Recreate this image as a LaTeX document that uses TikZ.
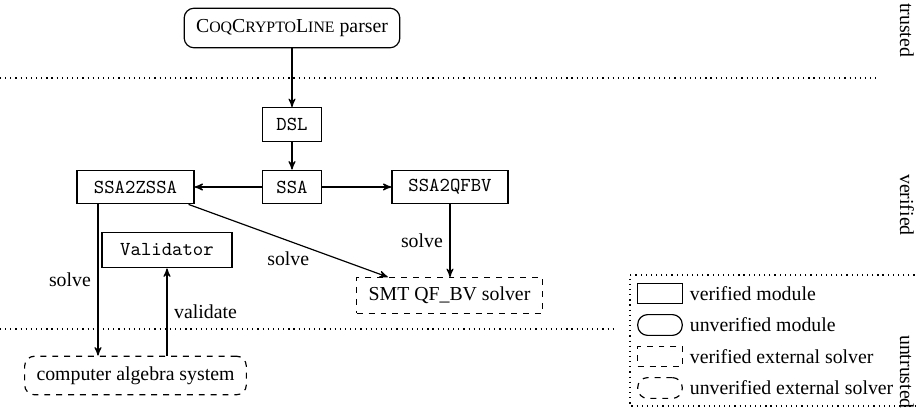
\documentclass[tikz,border=0pt]{standalone}
\usepackage{fontspec}
\setmainfont{Liberation Serif}
\usetikzlibrary{arrows,positioning}

\newcommand{\smallcapsize}{\fontsize{8}{9}\selectfont}
\newcommand{\cclname}{C{\smallcapsize OQ}C{\smallcapsize RYPTO}L{\smallcapsize INE}}

\begin{document}
\begin{tikzpicture}[x=0.505pt, y=-0.505pt, >=stealth',
	module/.style={draw, semithick, font=\ttfamily, inner xsep=2pt, minimum height=17pt},
	unvmodule/.style={draw, semithick, rounded corners=5pt, inner xsep=6pt, minimum height=20pt},
	extsolver/.style={draw, dashed, semithick, inner xsep=6pt, minimum height=18pt},
	unvsolver/.style={extsolver, rounded corners=5pt, minimum height=19.5pt},
	flow/.style={->, semithick},
	zone/.style={dotted, semithick},
	zonelabel/.style={rotate=-90},
	legendshape/.style={minimum width=22.5pt, minimum height=10.5pt, inner sep=0pt}]
	\useasboundingbox (0,0) rectangle (917,412);

	%trust zones
	\draw[zone] (0,78) -- (877,78);
	\draw[zone] (0,329) -- (615,329);
	\node[zonelabel] (trusted) at (907,30) {trusted};
	\node[zonelabel] (verified) at (907,205) {verified};
	\node[zonelabel] (untrusted) at (907,372) {untrusted};

	%modules
	\node[unvmodule] (parser) at (292,28) {\cclname{} parser};
	\node[module, minimum width=29.8pt] (dsl) at (292,124.5) {DSL};
	\node[module, minimum width=29.8pt] (ssa) at (292,187) {SSA};
	\node[module, minimum width=59pt] (zssa) at (135.5,187) {SSA2ZSSA};
	\node[module, minimum width=58.6pt] (qfbv) at (450,187) {SSA2QFBV};
	\node[module, minimum width=65.7pt, minimum height=18pt] (validator) at (167,250) {Validator};

	%external solvers
	\node[extsolver] (smt) at (449.5,295.5) {SMT QF\_BV solver};
	\node[unvsolver] (cas) at (135.5,375.5) {computer algebra system};

	%flow
	\draw[flow] (parser) -- (dsl);
	\draw[flow] (dsl) -- (ssa);
	\draw[flow] (ssa) -- (zssa);
	\draw[flow] (ssa) -- (qfbv);
	\draw[flow] (qfbv) -- (qfbv |- smt.north) node[midway, left] {solve};
	\draw[flow] ([xshift=-3pt]zssa.south east) -- ([xshift=16pt]smt.north west)
		node[midway, below, yshift=-2pt] {solve};
	\coordinate (solvex) at (98,0);
	\draw[flow] (zssa.south -| solvex) -- (cas.north -| solvex) node[midway, left] {solve};
	\draw[flow] (cas.north -| validator) -- (validator.south) node[midway, right] {validate};

	%legend
	\draw[zone] (930,275) -| (630,406) -- (930,406);
	\node[legendshape, draw, semithick] (legver) at (660,293.5) {};
	\node[legendshape, draw, semithick, rounded corners=5pt] (legunv) at (660,325) {};
	\node[legendshape, draw, semithick, dashed] (legext) at (660,356.5) {};
	\node[legendshape, draw, semithick, dashed, rounded corners=5pt] (legunvext) at (660,388) {};
	\node[right=0pt of legver] {verified module};
	\node[right=0pt of legunv] {unverified module};
	\node[right=0pt of legext] {verified external solver};
	\node[right=0pt of legunvext] {unverified external solver};

\end{tikzpicture}
\end{document}
